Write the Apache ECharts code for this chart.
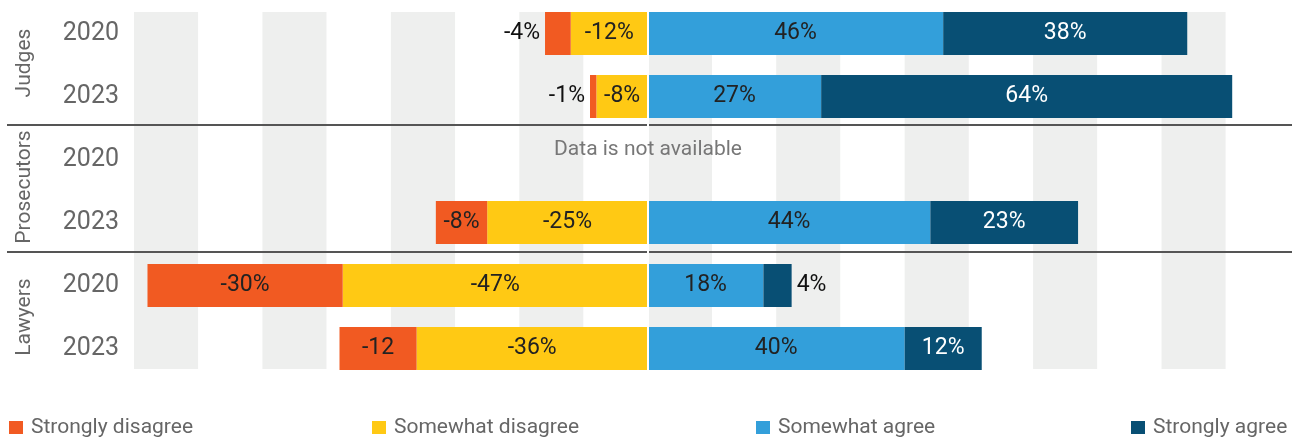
<!DOCTYPE html>
<html>
<head>
<meta charset="utf-8">
<title>Agreement by profession</title>
<script src="https://cdn.jsdelivr.net/npm/echarts@6.0.0/dist/echarts.min.js"></script>
<style>
  html, body { margin: 0; padding: 0; background: #fff; }
  #chart { width: 1303px; height: 440px; }
</style>
</head>
<body>
<div id="chart"></div>
<script>
// rows, top to bottom
const groups = ['Judges', 'Prosecutors', 'Lawyers']
const years = ['2020', '2023', '2020', '2023', '2020', '2023']
const rowKeys = ['Judges 2020', 'Judges 2023', 'Prosecutors 2020', 'Prosecutors 2023', 'Lawyers 2020', 'Lawyers 2023']

// shares in %, disagree as negatives (prosecutors 2020: no data)
const stronglyDisagree = [-4, -1, null, -8, -30.4, -12]
const somewhatDisagree = [-12, -8, null, -25, -47.5, -36]
const somewhatAgree = [46, 27, null, 44, 18, 40]
const stronglyAgree = [38, 64, null, 23, 4.4, 12]
const stronglyDisagreeLabels = ['-4%', '-1%', '', '-8%', '-30%', '-12']

const xTicks = { min: -80, max: 100, interval: 10 }

const colors = {
    sd: '#F15A22',
    wd: '#FFC914',
    wa: '#339FDA',
    sa: '#084F74'
}

const FONT = 'Roboto, "Noto Sans", sans-serif'
const gridLeft = 134
const gridRight = 13

const chart = echarts.init(document.getElementById('chart'))

// small values don't fit inside the bar -> put the label outside
const toItems = (values, outsidePos) => values.map(v => {
    if (v !== null && Math.abs(v) < 5) {
        return { value: v, label: { position: outsidePos, color: '#111', distance: 5 } }
    }
    return v
})

const barSeries = (name, data, color, labelColor, formatter) => ({
    name: name,
    type: 'bar',
    stack: 'total',
    xAxisIndex: 1,
    yAxisIndex: 1,
    barWidth: 43,
    data: data,
    itemStyle: { color: color },
    label: {
        show: true,
        position: 'inside',
        color: labelColor,
        fontSize: 23,
        fontFamily: FONT,
        formatter: formatter || (p => Math.round(p.value) + '%')
    }
})

const legendAt = (name, left) => ({
    data: [name],
    left: left,
    top: 417,
    padding: 0,
    icon: 'rect',
    itemWidth: 14,
    itemHeight: 13,
    selectedMode: false,
    textStyle: { fontSize: 21, color: '#666', fontFamily: FONT, padding: [0, 0, 0, 3] }
})

const groupLabel = (text, y) => ({
    type: 'text',
    x: 25,
    y: y,
    rotation: Math.PI / 2,
    z: 20,
    style: {
        text: text,
        fill: '#666',
        fontSize: 21,
        fontFamily: FONT,
        align: 'center',
        verticalAlign: 'middle'
    }
})

const separator = y => ({
    type: 'line',
    shape: { x1: 7, y1: y, x2: 1292, y2: y },
    style: { stroke: '#555', lineWidth: 2 },
    z: 1
})

const option = {
    animation: false,
    grid: [
        // striped background
        { left: gridLeft, right: gridRight, top: 12, height: 357 },
        // bars
        { left: gridLeft, right: gridRight, top: 2, height: 378 }
    ],
    xAxis: [
        {
            gridIndex: 0,
            type: 'value',
            min: xTicks.min,
            max: xTicks.max,
            interval: xTicks.interval,
            axisLine: { show: false },
            axisTick: { show: false },
            axisLabel: { show: false },
            splitLine: { show: false },
            splitArea: { show: true, areaStyle: { color: ['#eeefee', '#ffffff'] } }
        },
        {
            gridIndex: 1,
            type: 'value',
            min: xTicks.min,
            max: xTicks.max,
            interval: xTicks.interval,
            show: false
        }
    ],
    yAxis: [
        { gridIndex: 0, type: 'value', show: false },
        {
            gridIndex: 1,
            type: 'category',
            inverse: true,
            data: rowKeys,
            axisLine: { show: false },
            axisTick: { show: false },
            axisLabel: {
                margin: 15,
                fontSize: 25,
                color: '#666',
                fontFamily: FONT,
                lineHeight: 30,
                padding: [8, 0, 0, 0],
                formatter: (v, i) => years[i]
            }
        }
    ],
    legend: [
        legendAt('Strongly disagree', 9),
        legendAt('Somewhat disagree', 372),
        legendAt('Somewhat agree', 756),
        legendAt('Strongly agree', 1131)
    ],
    graphic: [
        separator(125),
        separator(252),
        groupLabel(groups[0], 63),
        groupLabel(groups[1], 187),
        groupLabel(groups[2], 317),
        {
            type: 'text',
            x: 648,
            y: 150,
            z: 20,
            style: {
                text: 'Data is not available',
                fill: '#777',
                fontSize: 21,
                fontFamily: FONT,
                align: 'center',
                verticalAlign: 'middle'
            }
        }
    ],
    series: [
        // somewhat disagree first so it sits next to zero
        barSeries('Somewhat disagree', somewhatDisagree, colors.wd, '#222'),
        barSeries('Strongly disagree', toItems(stronglyDisagree, 'left'), colors.sd, '#222',
            p => stronglyDisagreeLabels[p.dataIndex]),
        barSeries('Somewhat agree', somewhatAgree, colors.wa, '#222'),
        Object.assign(barSeries('Strongly agree', toItems(stronglyAgree, 'right'), colors.sa, '#fff'), {
            markLine: {
                silent: true,
                symbol: 'none',
                label: { show: false },
                lineStyle: { color: '#fff', width: 2, type: 'solid' },
                data: [{ xAxis: 0 }],
                z: 10
            }
        })
    ]
}

chart.setOption(option)
</script>
</body>
</html>
